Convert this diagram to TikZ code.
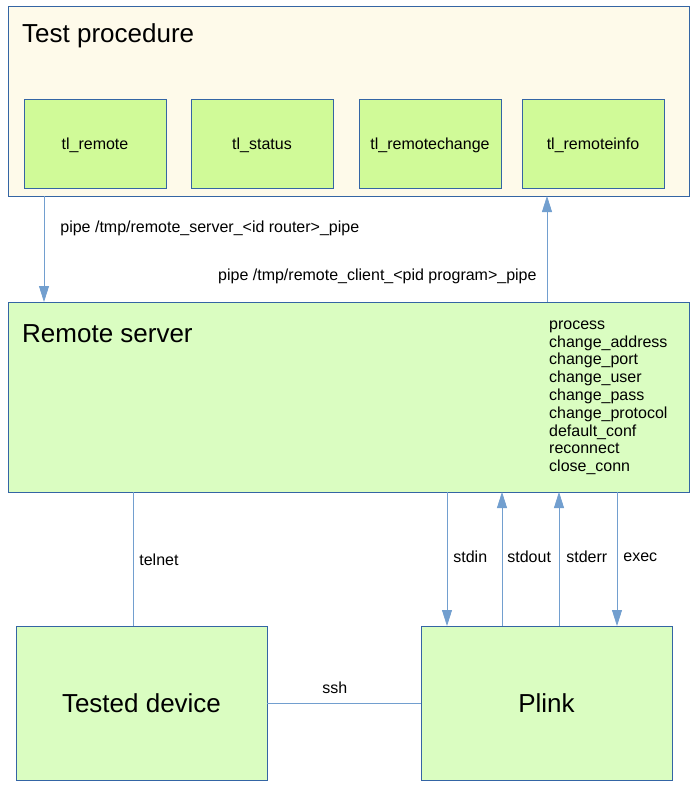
\documentclass[tikz,border=0pt]{standalone}
\usepackage{fontspec}
\setmainfont{Liberation Sans}
\usetikzlibrary{arrows.meta}
\usetikzlibrary{positioning}
\definecolor{boxblue}{RGB}{52,101,164}
\definecolor{linkblue}{RGB}{114,159,207}
\definecolor{cream}{RGB}{254,250,234}
\definecolor{tlgreen}{RGB}{208,250,152}
\definecolor{srvgreen}{RGB}{218,253,193}

\begin{document}
\begin{tikzpicture}[x=1pt,y=-1pt,
    box/.style={draw=boxblue, line width=0.8pt, inner sep=0pt, outer sep=0pt, anchor=north west},
    small/.style={font=\fontsize{16}{18}\selectfont, inner sep=0pt, text depth=0pt},
    big/.style={font=\fontsize{26}{30}\selectfont, inner sep=0pt},
    tlbox/.style={box, small, fill=tlgreen, minimum width=142pt, minimum height=89pt},
    link/.style={draw=linkblue, line width=0.8pt},
    flow/.style={link, -{Triangle[length=16pt,width=10pt]}}]
    \useasboundingbox (0,0) rectangle (697,790);

    \node[box, fill=cream, minimum width=681pt, minimum height=190pt] (proc) at (8,6) {};
    \node[big, anchor=base west] (proctitle) at (22,42.5) {Test procedure};
    \node[tlbox] (tlremote) at (24,99) {tl\_remote};
    \node[tlbox] (tlstatus) at (191,99) {tl\_status};
    \node[tlbox] (tlchange) at (359,99) {tl\_remotechange};
    \node[tlbox] (tlinfo) at (522,99) {tl\_remoteinfo};

    \node[box, fill=srvgreen, minimum width=681pt, minimum height=190pt] (server) at (8,302) {};
    \node[big, anchor=base west] (srvtitle) at (22,342) {Remote server};
    \foreach \cmd [count=\i] in {process, change\_address, change\_port, change\_user, change\_pass,
        change\_protocol, default\_conf, reconnect, close\_conn}
      \node[small, anchor=base west] (cmd\i) at ({549},{311.5+17.8*\i}) {\cmd};

    \node[box, big, fill=srvgreen, minimum width=251pt, minimum height=154pt] (device) at (16,626) {Tested device};
    \node[box, big, fill=srvgreen, minimum width=251pt, minimum height=154pt] (plink) at (421,626) {Plink};

    \draw[flow] ([xshift=36pt]proc.south west) -- ([xshift=36pt]server.north west)
      node[small, pos=0.29, right=16pt] (pipesrv) {pipe /tmp/remote\_server\_<id router>\_pipe};
    \draw[flow] ([xshift=539pt]server.north west) -- ([xshift=539pt]proc.south west)
      node[small, pos=0.255, left=10pt] (pipecli) {pipe /tmp/remote\_client\_<pid program>\_pipe};

    \coordinate (telnetpt) at ([xshift=117pt]device.north west);
    \coordinate (stdinpt) at ([xshift=26pt]plink.north west);
    \coordinate (stdoutpt) at ([xshift=81pt]plink.north west);
    \coordinate (stderrpt) at ([xshift=138pt]plink.north west);
    \coordinate (execpt) at ([xshift=196pt]plink.north west);

    \draw[link] (telnetpt |- server.south) -- (telnetpt) node[small, pos=0.505, right=6pt] (telnetlbl) {telnet};
    \draw[flow] (stdinpt |- server.south) -- (stdinpt) node[small, pos=0.485, right=6pt] (stdinlbl) {stdin};
    \draw[flow] (stdoutpt) -- (stdoutpt |- server.south) node[small, pos=0.515, right=5pt] (stdoutlbl) {stdout};
    \draw[flow] (stderrpt) -- (stderrpt |- server.south) node[small, pos=0.515, right=7pt] (stderrlbl) {stderr};
    \draw[flow] (execpt |- server.south) -- (execpt) node[small, pos=0.485, right=6pt] (execlbl) {exec};

    \draw[link] (device.east) -- (plink.west) node[small, pos=0.44, above=9pt] (sshlbl) {ssh};
\end{tikzpicture}
\end{document}
